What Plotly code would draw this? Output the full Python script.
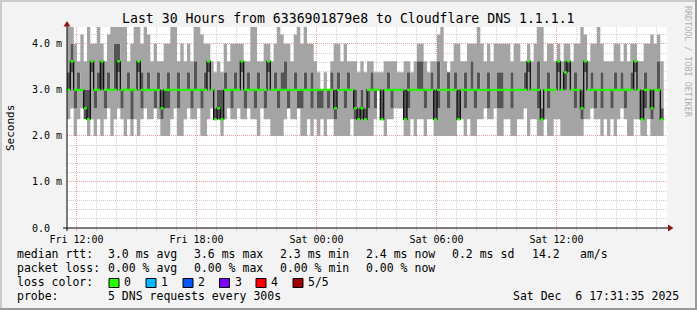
import plotly.graph_objects as go
import pandas as pd

# ---------------- data (ms), 10-minute steps ----------------
START = "2025-12-05 11:31:35"
END = "2025-12-06 17:31:35"
STEP_MIN = 10

MEDIAN = [3.0, 3.62, 3.0, 3.0, 3.0, 2.6, 2.36, 3.62, 3.0, 3.0,
          3.62, 3.0, 3.0, 3.0, 3.0, 3.62, 3.0, 3.0, 3.0, 3.0,
          3.0, 3.62, 3.0, 3.0, 3.0, 3.0, 3.0, 3.0, 2.6, 3.0,
          3.0, 3.0, 3.0, 3.0, 3.0, 3.0, 3.0, 3.0, 3.0, 3.0,
          3.0, 3.0, 3.62, 3.0, 2.36, 2.6, 2.36, 3.0, 3.0, 3.0,
          3.0, 3.0, 3.62, 3.0, 3.0, 3.0, 3.0, 3.0, 3.0, 3.0,
          3.62, 3.0, 3.0, 3.0, 3.0, 3.0, 3.0, 3.0, 3.0, 3.0,
          3.0, 3.0, 3.0, 3.0, 3.0, 3.0, 3.0, 3.0, 3.0, 3.0,
          2.6, 3.0, 3.0, 3.0, 3.0, 3.0, 2.6, 2.36, 2.6, 2.36,
          3.0, 3.0, 3.0, 3.0, 2.36, 3.0, 3.0, 3.0, 3.0, 3.0,
          3.0, 2.36, 3.0, 3.0, 3.0, 3.0, 3.0, 3.0, 3.0, 3.0,
          2.36, 3.0, 3.0, 3.0, 3.0, 3.0, 3.0, 2.36, 3.0, 3.0,
          3.0, 3.0, 3.0, 3.0, 3.0, 3.0, 3.0, 3.0, 3.0, 3.0,
          3.0, 3.0, 3.0, 3.0, 3.0, 3.0, 3.0, 3.0, 3.62, 3.0,
          3.0, 3.0, 2.36, 3.0, 3.0, 3.0, 3.0, 3.62, 3.0, 3.38,
          3.62, 3.0, 3.0, 3.0, 2.6, 3.62, 3.0, 3.0, 3.0, 3.0,
          3.0, 3.0, 3.0, 3.0, 3.0, 3.0, 3.0, 3.0, 3.0, 3.0,
          3.62, 3.0, 2.36, 3.0, 3.0, 2.6, 3.0, 3.0, 2.36]

PING1 = [2.36, 2.6, 2.0, 2.36, 2.6, 2.36, 2.0, 2.36, 2.0, 2.36,
         2.0, 2.36, 2.6, 2.0, 2.36, 2.6, 2.36, 2.0, 2.36, 2.0,
         2.36, 2.0, 2.36, 2.6, 2.36, 2.36, 2.6, 2.36, 2.0, 2.0,
         2.0, 2.36, 2.6, 2.0, 2.0, 2.36, 2.6, 2.36, 2.36, 2.6,
         2.0, 2.0, 2.36, 2.6, 2.36, 2.36, 2.0, 2.36, 2.6, 2.36,
         2.36, 2.6, 2.36, 2.36, 2.6, 2.36, 2.36, 2.0, 2.6, 2.36,
         2.36, 2.0, 2.0, 2.0, 2.0, 2.36, 2.6, 2.36, 2.36, 2.6,
         2.0, 2.0, 2.36, 2.0, 2.36, 2.0, 2.36, 2.0, 2.36, 2.36,
         2.0, 2.0, 2.0, 2.0, 2.0, 2.36, 2.0, 2.0, 2.0, 2.0,
         2.0, 2.0, 2.36, 3.0, 2.36, 2.0, 2.36, 2.36, 2.6, 2.6,
         2.6, 2.0, 2.0, 2.36, 2.0, 2.36, 2.36, 2.0, 2.36, 2.36,
         2.0, 2.0, 2.0, 2.0, 2.0, 2.0, 2.0, 2.36, 2.36, 2.0,
         2.36, 2.0, 2.0, 2.36, 2.36, 2.6, 2.36, 2.36, 2.6, 2.0,
         2.0, 2.36, 2.36, 2.0, 2.0, 2.36, 2.36, 2.6, 2.0, 2.36,
         2.36, 2.0, 2.0, 2.36, 2.0, 2.0, 2.36, 2.36, 2.0, 2.0,
         2.0, 2.0, 2.0, 2.0, 2.0, 2.36, 2.36, 2.6, 2.36, 2.36,
         2.0, 2.36, 2.0, 2.36, 2.0, 2.36, 2.6, 2.36, 2.0, 2.0,
         2.36, 2.36, 2.0, 2.0, 2.36, 2.0, 2.0, 2.0, 2.0]

PING2 = [3.0, 3.38, 2.6, 3.0, 3.0, 2.36, 2.36, 3.38, 2.6, 3.0,
         3.0, 2.6, 3.0, 3.0, 3.0, 3.38, 2.6, 3.0, 3.0, 2.36,
         3.0, 3.38, 2.6, 3.0, 3.0, 3.0, 2.6, 3.0, 2.36, 2.6,
         2.6, 3.0, 3.0, 2.6, 3.0, 3.0, 3.0, 2.6, 3.0, 3.0,
         2.6, 3.0, 3.38, 3.0, 2.36, 2.36, 2.36, 3.0, 3.0, 2.6,
         3.0, 3.0, 3.38, 2.6, 3.0, 3.0, 2.6, 3.0, 3.0, 2.6,
         3.38, 3.0, 3.0, 2.6, 3.0, 3.0, 2.6, 3.0, 3.0, 2.6,
         2.6, 3.0, 3.0, 2.6, 3.0, 2.6, 2.6, 3.0, 2.6, 3.0,
         2.36, 3.0, 3.0, 2.6, 3.0, 3.0, 2.36, 2.36, 2.36, 2.36,
         2.6, 3.0, 2.6, 3.0, 2.36, 3.0, 3.0, 2.6, 3.0, 3.0,
         3.0, 2.36, 2.6, 3.0, 3.0, 3.0, 3.0, 2.6, 3.0, 3.0,
         2.36, 2.6, 3.0, 3.0, 2.6, 3.0, 3.0, 2.36, 3.0, 2.6,
         3.0, 3.0, 2.6, 3.0, 3.0, 3.0, 2.6, 3.0, 3.0, 2.6,
         2.6, 3.0, 3.0, 2.6, 3.0, 3.0, 3.0, 3.0, 3.38, 3.0,
         3.0, 2.6, 2.36, 3.0, 2.6, 3.0, 3.0, 3.38, 3.0, 3.0,
         3.38, 3.0, 2.6, 3.0, 2.36, 3.38, 3.0, 3.0, 2.6, 3.0,
         2.6, 3.0, 3.0, 2.6, 3.0, 3.0, 3.0, 2.6, 3.0, 3.0,
         3.38, 3.0, 2.36, 2.6, 3.0, 2.36, 3.0, 3.0, 2.36]

PING4 = [3.38, 4.0, 3.0, 3.38, 3.0, 3.0, 3.0, 3.62, 3.0, 3.38,
         3.62, 3.0, 3.38, 3.0, 4.0, 4.0, 3.0, 3.0, 3.38, 3.0,
         3.0, 3.62, 3.38, 3.0, 3.38, 3.0, 3.0, 3.38, 3.0, 3.0,
         3.38, 3.0, 3.0, 3.38, 3.0, 3.0, 3.38, 3.0, 3.62, 3.0,
         3.0, 3.38, 3.62, 3.0, 2.6, 3.0, 3.0, 3.38, 3.0, 3.0,
         3.38, 3.0, 3.62, 3.0, 3.38, 3.0, 3.0, 3.38, 3.0, 3.0,
         3.62, 3.0, 3.38, 3.0, 3.38, 3.62, 3.0, 3.0, 3.38, 3.0,
         3.0, 3.38, 3.0, 3.38, 3.0, 3.0, 3.0, 3.0, 3.0, 3.38,
         3.0, 3.38, 3.0, 3.0, 3.38, 3.0, 3.0, 2.6, 3.0, 2.6,
         3.0, 3.38, 3.0, 3.0, 3.0, 3.0, 3.38, 3.0, 3.0, 3.0,
         3.0, 3.0, 3.38, 3.0, 3.0, 3.62, 3.62, 3.0, 3.0, 3.38,
         3.0, 3.62, 3.0, 3.0, 3.38, 3.0, 3.38, 3.0, 3.0, 3.38,
         3.0, 3.62, 3.0, 3.38, 3.0, 3.0, 3.38, 3.0, 3.0, 3.38,
         3.38, 3.0, 3.0, 3.38, 3.0, 3.0, 3.0, 3.38, 3.62, 3.0,
         3.0, 3.62, 2.6, 3.0, 3.38, 3.0, 3.0, 3.62, 3.0, 3.62,
         3.62, 3.0, 3.38, 3.0, 3.0, 3.62, 3.0, 3.38, 3.0, 3.0,
         3.38, 3.0, 3.0, 3.0, 3.38, 3.0, 3.38, 3.0, 3.0, 3.38,
         3.62, 3.0, 3.0, 3.38, 3.0, 3.0, 3.0, 3.62, 2.6]

PING5 = [4.5, 4.5, 4.0, 3.62, 4.2, 3.62, 4.5, 4.0, 4.0, 4.5,
         4.0, 3.62, 4.2, 4.5, 4.5, 4.5, 4.5, 4.5, 3.62, 4.0,
         4.5, 4.5, 4.0, 4.5, 4.2, 3.62, 4.0, 3.62, 3.62, 4.0,
         4.0, 4.5, 4.5, 3.62, 4.0, 3.62, 4.0, 3.62, 4.5, 4.5,
         4.2, 4.0, 4.0, 3.62, 3.38, 3.62, 3.38, 4.0, 3.62, 4.0,
         4.0, 4.0, 4.0, 3.62, 3.62, 4.5, 4.5, 3.62, 3.62, 4.0,
         4.0, 3.62, 4.0, 4.5, 4.2, 4.0, 4.0, 3.62, 4.2, 4.5,
         4.0, 4.5, 4.0, 4.0, 3.62, 3.38, 3.0, 3.38, 3.0, 3.62,
         4.0, 4.0, 3.62, 4.0, 3.62, 3.62, 3.62, 3.38, 3.62, 3.38,
         3.62, 3.62, 3.38, 3.38, 3.38, 3.62, 3.62, 3.62, 3.62, 3.38,
         3.38, 3.62, 3.62, 3.38, 3.62, 4.0, 4.0, 3.62, 3.38, 3.62,
         3.62, 4.2, 4.5, 3.62, 3.38, 3.62, 4.0, 4.0, 3.62, 3.62,
         4.0, 4.0, 4.0, 4.5, 4.0, 3.62, 4.0, 3.62, 4.0, 4.0,
         4.0, 4.0, 4.0, 3.62, 4.0, 4.0, 3.62, 3.62, 4.0, 3.62,
         4.0, 4.5, 4.5, 3.62, 4.0, 4.0, 3.62, 4.0, 3.62, 4.0,
         4.0, 3.62, 4.0, 4.0, 4.5, 4.2, 3.62, 4.0, 4.0, 4.5,
         4.0, 3.62, 3.62, 3.62, 4.0, 4.0, 3.62, 4.0, 3.62, 4.0,
         4.0, 3.62, 3.62, 4.0, 4.0, 4.2, 4.0, 4.2, 3.62]

Y_TICKS = [0, 1, 2, 3, 4]
Y_TICK_TEXT = ["0.0\u00a0\u00a0", "1.0 m", "2.0 m", "3.0 m", "4.0 m"]
Y_MAX = 4.365

LOSS_LABELS = ["0", "1", "2", "3", "4", "5/5"]
LOSS_COLORS = ["#26ff00", "#00b8ff", "#0059ff", "#7e00ff", "#ff0000", "#a10000"]

RTT_ITEMS = ["3.0 ms avg", "3.6 ms max", "2.3 ms min", "2.4 ms now", "0.2 ms sd", "14.2", "am/s"]
LOSS_ITEMS = ["0.00 % avg", "0.00 % max", "0.00 % min", "0.00 % now"]

# ---------------- geometry helpers (pixels -> paper) ----------------
W, H = 697, 310
PL, PR, PT, PB = 67, 667, 27, 228


def px(x):
    return (x - PL) / (PR - PL)


def py(y):
    return (PB - y) / (PB - PT)


times = pd.date_range(START, periods=len(MEDIAN) + 1, freq=f"{STEP_MIN}min")
xs = list(times)


def ext(v):
    return list(v) + [v[-1]]


LIGHT = "#a4a4a4"
DARK = "#555555"
MONO = "DejaVu Sans Mono"

fig = go.Figure()
bands = [(PING1, None), (PING2, LIGHT), (MEDIAN, DARK), (PING4, DARK), (PING5, LIGHT)]
for vals, col in bands:
    fig.add_trace(go.Scatter(
        x=xs, y=ext(vals), mode="lines", line=dict(width=0, shape="hv"),
        fill=None if col is None else "tonexty",
        fillcolor=col, hoverinfo="skip", showlegend=False))

# median: dark step line + green level segments
fig.add_trace(go.Scatter(x=xs, y=ext(MEDIAN), mode="lines",
                         line=dict(width=1.3, color="#111111", shape="hv"),
                         hoverinfo="skip", showlegend=False))
gx, gy = [], []
for i, m in enumerate(MEDIAN):
    gx += [xs[i], xs[i + 1], None]
    gy += [m, m, None]
fig.add_trace(go.Scatter(x=gx, y=gy, mode="lines",
                         line=dict(width=2.2, color=LOSS_COLORS[0]),
                         hoverinfo="skip", showlegend=False))

fig.update_layout(
    width=W, height=H, autosize=False,
    margin=dict(l=PL, r=W - PR, t=PT, b=H - PB),
    paper_bgcolor="#f3f3f3", plot_bgcolor="#ffffff",
    font=dict(family=MONO, size=10, color="#000000"),
    showlegend=False,
)
fig.update_xaxes(
    type="date", range=[START, END],
    tick0="2025-12-05 00:00:00", dtick=6 * 3600 * 1000,
    tickformat="%a %H:%M", tickfont=dict(size=10, family=MONO),
    showgrid=True, gridcolor="#e8a0a0", griddash="1px,1px", gridwidth=1,
    ticks="outside", ticklen=2, tickcolor="#e8a0a0",
    minor=dict(dtick=3600 * 1000, tick0="2025-12-05 00:00:00", showgrid=True,
               gridcolor="#cfcfcf", griddash="1px,1px", ticks="outside", ticklen=2,
               tickcolor="#cfcfcf"),
    showline=False, zeroline=False, fixedrange=True,
)
fig.update_yaxes(
    range=[0, Y_MAX], tickmode="array", tickvals=Y_TICKS, ticktext=Y_TICK_TEXT,
    tickfont=dict(size=10, family=MONO),
    showgrid=True, gridcolor="#e8a0a0", griddash="1px,1px", gridwidth=1,
    ticks="", ticklabelstandoff=4,
    minor=dict(dtick=0.2, tick0=0, showgrid=True, gridcolor="#cfcfcf", griddash="1px,1px"),
    showline=False, zeroline=False, fixedrange=True,
)

shapes = []
# frame borders
shapes.append(dict(type="rect", xref="paper", yref="paper", x0=px(0), x1=px(W), y0=py(0), y1=py(2),
                   fillcolor="#cbcbcb", line=dict(width=0), layer="above"))
shapes.append(dict(type="rect", xref="paper", yref="paper", x0=px(0), x1=px(2), y0=py(0), y1=py(H),
                   fillcolor="#cbcbcb", line=dict(width=0), layer="above"))
shapes.append(dict(type="rect", xref="paper", yref="paper", x0=px(0), x1=px(W), y0=py(H - 2), y1=py(H),
                   fillcolor="#999999", line=dict(width=0), layer="above"))
shapes.append(dict(type="rect", xref="paper", yref="paper", x0=px(W - 2), x1=px(W), y0=py(0), y1=py(H),
                   fillcolor="#999999", line=dict(width=0), layer="above"))
# axes
shapes.append(dict(type="line", xref="paper", yref="paper", x0=px(63), x1=px(669), y0=py(228), y1=py(228),
                   line=dict(color="#000000", width=1), layer="above"))
shapes.append(dict(type="line", xref="paper", yref="paper", x0=px(67), x1=px(67), y0=py(231), y1=py(23),
                   line=dict(color="#000000", width=1), layer="above"))
shapes.append(dict(type="path", xref="paper", yref="paper",
                   path=f"M {px(668)} {py(224.5)} L {px(673.5)} {py(228)} L {px(668)} {py(231.5)} Z",
                   fillcolor="#8b1a1a", line=dict(width=0), layer="above"))
shapes.append(dict(type="path", xref="paper", yref="paper",
                   path=f"M {px(63.5)} {py(26.5)} L {px(67)} {py(21)} L {px(70.5)} {py(26.5)} Z",
                   fillcolor="#8b1a1a", line=dict(width=0), layer="above"))

anns = []


def ann(text, x, y, size=11.5, xanchor="left", color="#000000", angle=0):
    anns.append(dict(text=text, x=px(x), y=py(y), xref="paper", yref="paper",
                     xanchor=xanchor, yanchor="middle", showarrow=False, textangle=angle,
                     font=dict(family=MONO, size=size, color=color)))


ann("Last 30 Hours from 6336901879e8 to Cloudflare DNS 1.1.1.1", 348, 19, size=13.2, xanchor="center")
ann("Seconds", 10, 128, size=11, xanchor="center", angle=-90)
ann("RRDTOOL / TOBI OETIKER", 688, 62, size=8.4, xanchor="center", color="#b0b0b0", angle=90)

COLS = [107, 193, 279, 365, 451, 531, 579]
ann("median rtt:", 15, 254.3)
for t, x in zip(RTT_ITEMS, COLS):
    ann(t, x - 1, 254.3)
ann("packet loss:", 15, 268.3)
for t, x in zip(LOSS_ITEMS, COLS):
    ann(t, x - 1, 268.3)
ann("loss color:", 15, 282.3)
BOX_X = [109, 146, 183, 219.5, 256, 293]
for lab, col, bx in zip(LOSS_LABELS, LOSS_COLORS, BOX_X):
    shapes.append(dict(type="rect", xref="paper", yref="paper", x0=px(bx), x1=px(bx + 10),
                       y0=py(287.5), y1=py(278.5), fillcolor=col,
                       line=dict(color="#000000", width=1), layer="above"))
    ann(lab, bx + 13, 282.3)
ann("probe:", 15, 296)
ann("5 DNS requests every 300s", 106, 296)
ann("Sat Dec  6 17:31:35 2025", 681, 296, xanchor="right")

fig.update_layout(shapes=shapes, annotations=anns)
fig.write_html("out.html", config={"displayModeBar": False})
